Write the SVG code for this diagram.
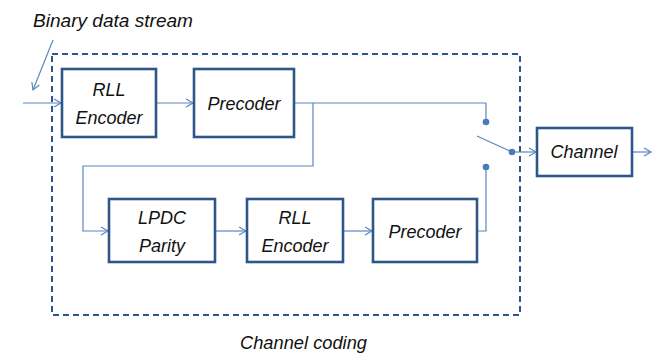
<svg xmlns="http://www.w3.org/2000/svg" width="662" height="356" viewBox="0 0 662 356">
  <style>
    .box { fill: #ffffff; stroke: #2f5689; stroke-width: 2.6; }
    .lbl { font-family: "Liberation Sans", "DejaVu Sans", sans-serif; font-style: italic; font-size: 18px; fill: #111111; text-anchor: middle; }
    .wire { fill: none; stroke: #5b87c0; stroke-width: 1.2; }
    .dot { fill: #4a7ab8; }
  </style>
  <defs>
    <marker id="chev" markerWidth="10" markerHeight="10" refX="8" refY="5" orient="auto" markerUnits="userSpaceOnUse">
      <path d="M1,1 L8,5 L1,9" fill="none" stroke="#5b87c0" stroke-width="1.2"/>
    </marker>
  </defs>

  <rect width="662" height="356" fill="#ffffff"/>

  <!-- channel coding boundary -->
  <rect x="52" y="54" width="468" height="261" fill="none" stroke="#2f5689" stroke-width="2" stroke-dasharray="6,4"/>

  <g id="connectors">
    <path class="wire" d="M53,40 L33,90" marker-end="url(#chev)"/>
    <path class="wire" d="M23,103 H61" marker-end="url(#chev)"/>
    <path class="wire" d="M156,103 H193" marker-end="url(#chev)"/>
    <path class="wire" d="M294,103 H486 V122"/>
    <path class="wire" d="M313,103 V166 H83 V231 H108" marker-end="url(#chev)"/>
    <path class="wire" d="M215,231 H246" marker-end="url(#chev)"/>
    <path class="wire" d="M343,231 H372" marker-end="url(#chev)"/>
    <path class="wire" d="M477,231 H486 V167"/>
    <path class="wire" d="M477,136 L512,152"/>
    <path class="wire" d="M512,152 H536" marker-end="url(#chev)"/>
    <path class="wire" d="M632,152 H651" marker-end="url(#chev)"/>
    <circle class="dot" cx="486" cy="122" r="3.3"/>
    <circle class="dot" cx="486" cy="167" r="3.3"/>
    <circle class="dot" cx="512" cy="152" r="3.3"/>
  </g>

  <g id="rll1">
    <rect class="box" x="62" y="69" width="94" height="68"/>
    <text class="lbl" x="109" y="96">RLL</text>
    <text class="lbl" x="109" y="124">Encoder</text>
  </g>
  <g id="pre1">
    <rect class="box" x="194" y="69" width="100" height="68"/>
    <text class="lbl" x="244" y="110">Precoder</text>
  </g>
  <g id="ldpc">
    <rect class="box" x="109" y="199" width="106" height="63"/>
    <text class="lbl" x="162" y="224">LPDC</text>
    <text class="lbl" x="162" y="252">Parity</text>
  </g>
  <g id="rll2">
    <rect class="box" x="247" y="199" width="96" height="63"/>
    <text class="lbl" x="295" y="224">RLL</text>
    <text class="lbl" x="295" y="252">Encoder</text>
  </g>
  <g id="pre2">
    <rect class="box" x="373" y="199" width="104" height="63"/>
    <text class="lbl" x="425" y="238">Precoder</text>
  </g>
  <g id="channel">
    <rect class="box" x="537" y="128" width="95" height="48"/>
    <text class="lbl" x="584" y="158">Channel</text>
  </g>

  <text class="lbl" x="33" y="27" style="text-anchor:start" textLength="160" lengthAdjust="spacingAndGlyphs">Binary data stream</text>
  <text class="lbl" x="240" y="349" style="text-anchor:start" textLength="127" lengthAdjust="spacingAndGlyphs">Channel coding</text>
</svg>
